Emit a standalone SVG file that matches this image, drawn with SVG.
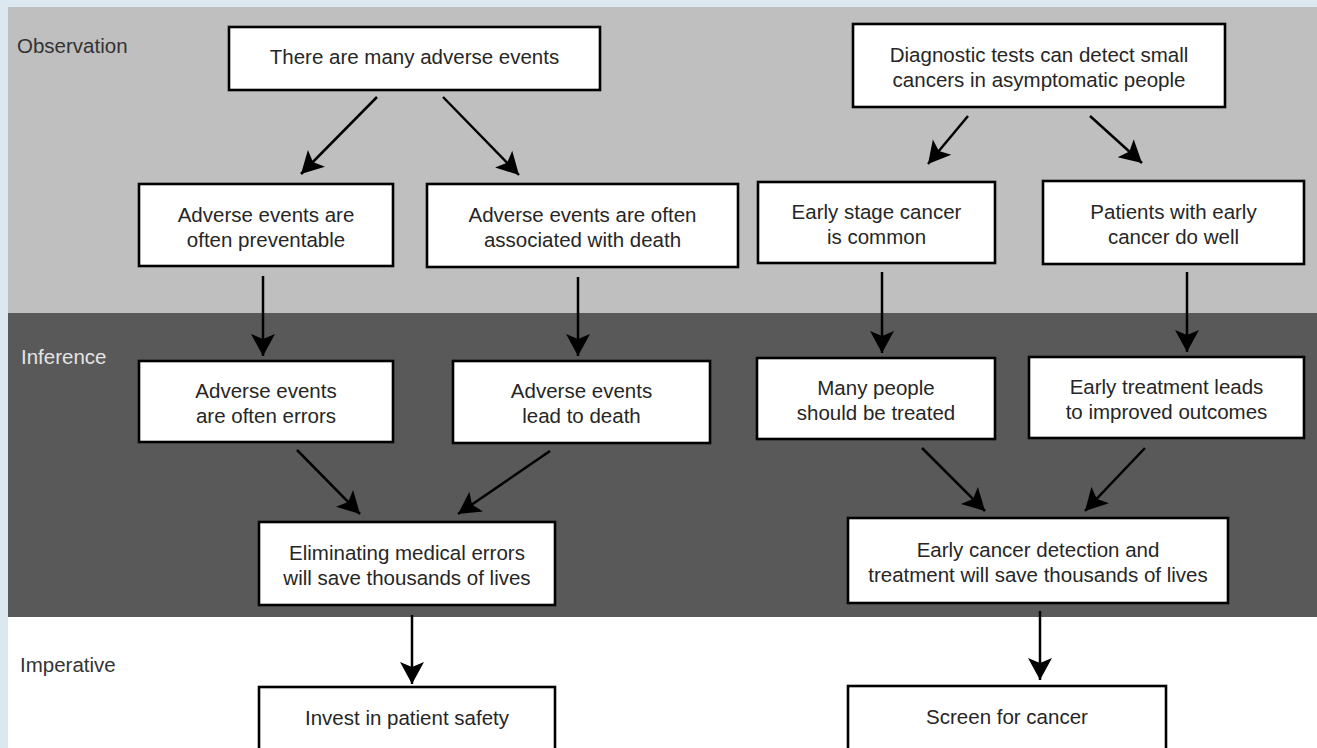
<svg xmlns="http://www.w3.org/2000/svg" width="1317" height="748" viewBox="0 0 1317 748">
<defs>
<marker id="ah" markerUnits="userSpaceOnUse" viewBox="-23 -12.5 24 25" markerWidth="24" markerHeight="25" refX="0" refY="0" orient="auto">
<path d="M0,0 L-22,-12 L-17,0 L-22,12 Z" fill="#000"/>
</marker>
</defs>
<style>
.box{fill:#fff;stroke:#000;stroke-width:2.6}
.t{font-family:"Liberation Sans",Arial,sans-serif;font-size:20.5px;fill:#262626;text-anchor:middle}
.lbl{font-family:"Liberation Sans",Arial,sans-serif;font-size:20.5px;fill:#333}
.lbl2{font-family:"Liberation Sans",Arial,sans-serif;font-size:20.5px;fill:#e4e4e4}
.c{stroke:#000;stroke-width:2.5;fill:none;marker-end:url(#ah)}
</style>
<rect x="0" y="0" width="1317" height="748" fill="#dce8f0"/>
<rect x="8" y="7" width="1309" height="306" fill="#bfbfbf"/>
<rect x="8" y="313" width="1309" height="304" fill="#595959"/>
<rect x="8" y="617" width="1309" height="131" fill="#fff"/>
<text class="lbl" x="17" y="53">Observation</text>
<text class="lbl2" x="21" y="364">Inference</text>
<text class="lbl" x="20" y="672">Imperative</text>
<g id="connectors">
<line class="c" x1="377" y1="97" x2="301" y2="174"/>
<line class="c" x1="443" y1="97" x2="519" y2="175"/>
<line class="c" x1="968" y1="116" x2="928" y2="164"/>
<line class="c" x1="1090" y1="116" x2="1142" y2="163"/>
<line class="c" x1="263" y1="276" x2="263" y2="356"/>
<line class="c" x1="578" y1="277" x2="578" y2="356"/>
<line class="c" x1="882" y1="272" x2="882" y2="353"/>
<line class="c" x1="1187" y1="272" x2="1187" y2="352"/>
<line class="c" x1="297" y1="450" x2="360" y2="514"/>
<line class="c" x1="550" y1="451" x2="458" y2="514"/>
<line class="c" x1="922" y1="448" x2="985" y2="511"/>
<line class="c" x1="1145" y1="448" x2="1085" y2="511"/>
<line class="c" x1="412" y1="615" x2="412" y2="684"/>
<line class="c" x1="1040" y1="611" x2="1040" y2="680"/>
</g>
<g id="n1"><rect class="box" x="229" y="27" width="371" height="63"/><text class="t" x="414.5" y="64">There are many adverse events</text></g>
<g id="n2"><rect class="box" x="853" y="24" width="372" height="83"/><text class="t" x="1039" y="62">Diagnostic tests can detect small</text><text class="t" x="1039" y="87">cancers in asymptomatic people</text></g>
<g id="n3"><rect class="box" x="139" y="184" width="254" height="82"/><text class="t" x="266" y="222">Adverse events are</text><text class="t" x="266" y="247">often preventable</text></g>
<g id="n4"><rect class="box" x="427" y="184" width="311" height="83"/><text class="t" x="582.5" y="222">Adverse events are often</text><text class="t" x="582.5" y="247">associated with death</text></g>
<g id="n5"><rect class="box" x="758" y="182" width="237" height="81"/><text class="t" x="876.5" y="219">Early stage cancer</text><text class="t" x="876.5" y="244">is common</text></g>
<g id="n6"><rect class="box" x="1043" y="181" width="261" height="83"/><text class="t" x="1173.5" y="219">Patients with early</text><text class="t" x="1173.5" y="244">cancer do well</text></g>
<g id="n7"><rect class="box" x="139" y="361" width="254" height="81"/><text class="t" x="266" y="398">Adverse events</text><text class="t" x="266" y="423">are often errors</text></g>
<g id="n8"><rect class="box" x="453" y="361" width="257" height="82"/><text class="t" x="581.5" y="398">Adverse events</text><text class="t" x="581.5" y="423">lead to death</text></g>
<g id="n9"><rect class="box" x="757" y="358" width="238" height="81"/><text class="t" x="876" y="395">Many people</text><text class="t" x="876" y="420">should be treated</text></g>
<g id="n10"><rect class="box" x="1029" y="357" width="275" height="81"/><text class="t" x="1166.5" y="394">Early treatment leads</text><text class="t" x="1166.5" y="419">to improved outcomes</text></g>
<g id="n11"><rect class="box" x="259" y="522" width="296" height="83"/><text class="t" x="407" y="560">Eliminating medical errors</text><text class="t" x="407" y="585">will save thousands of lives</text></g>
<g id="n12"><rect class="box" x="848" y="518" width="380" height="85"/><text class="t" x="1038" y="557">Early cancer detection and</text><text class="t" x="1038" y="582">treatment will save thousands of lives</text></g>
<g id="n13"><rect class="box" x="259" y="687" width="296" height="80"/><text class="t" x="407" y="725">Invest in patient safety</text></g>
<g id="n14"><rect class="box" x="848" y="686" width="318" height="80"/><text class="t" x="1007" y="724">Screen for cancer</text></g>
</svg>
